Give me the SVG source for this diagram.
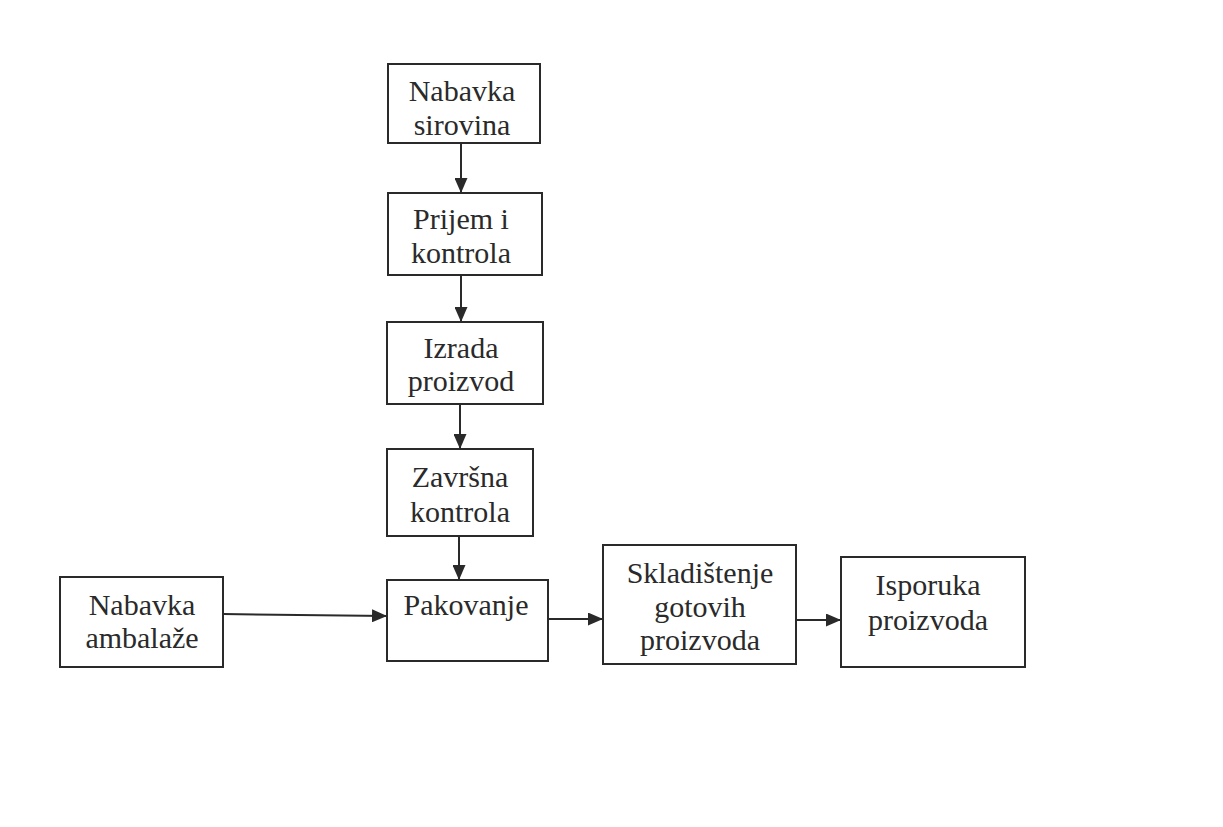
<svg xmlns="http://www.w3.org/2000/svg" width="1223" height="827" viewBox="0 0 1223 827">
  <style>
    .box { fill: #ffffff; stroke: #2a2a2a; stroke-width: 2; }
    .lbl { font-family: "Liberation Serif", "Times New Roman", serif; font-size: 30px; fill: #2a2a2a; text-anchor: middle; }
    .edge { stroke: #2a2a2a; stroke-width: 2; fill: none; marker-end: url(#arrow); }
  </style>
  <defs>
    <marker id="arrow" viewBox="0 0 15 13" refX="15" refY="6.5" markerWidth="15" markerHeight="13" markerUnits="userSpaceOnUse" orient="auto">
      <path d="M0,0 L15,6.5 L0,13 Z" fill="#2a2a2a"/>
    </marker>
  </defs>
  <rect width="1223" height="827" fill="#ffffff"/>

  <g id="connectors">
    <line class="edge" x1="461" y1="143" x2="461" y2="193"/>
    <line class="edge" x1="461" y1="275" x2="461" y2="322"/>
    <line class="edge" x1="460" y1="404" x2="460" y2="449"/>
    <line class="edge" x1="459" y1="536" x2="459" y2="580"/>
    <line class="edge" x1="223" y1="614" x2="387" y2="616"/>
    <line class="edge" x1="548" y1="619" x2="603" y2="619"/>
    <line class="edge" x1="796" y1="620" x2="841" y2="620"/>
  </g>

  <g id="nabavka-sirovina">
    <rect class="box" x="388" y="64" width="152" height="79"/>
    <text class="lbl" x="462" y="101">Nabavka</text>
    <text class="lbl" x="462" y="135">sirovina</text>
  </g>

  <g id="prijem-kontrola">
    <rect class="box" x="388" y="193" width="154" height="82"/>
    <text class="lbl" x="461" y="229">Prijem i</text>
    <text class="lbl" x="461" y="263">kontrola</text>
  </g>

  <g id="izrada-proizvod">
    <rect class="box" x="387" y="322" width="156" height="82"/>
    <text class="lbl" x="461" y="358">Izrada</text>
    <text class="lbl" x="461" y="391">proizvod</text>
  </g>

  <g id="zavrsna-kontrola">
    <rect class="box" x="387" y="449" width="146" height="87"/>
    <text class="lbl" x="460" y="487">Završna</text>
    <text class="lbl" x="460" y="522">kontrola</text>
  </g>

  <g id="nabavka-ambalaze">
    <rect class="box" x="60" y="577" width="163" height="90"/>
    <text class="lbl" x="142" y="615">Nabavka</text>
    <text class="lbl" x="142" y="648">ambalaže</text>
  </g>

  <g id="pakovanje">
    <rect class="box" x="387" y="580" width="161" height="81"/>
    <text class="lbl" x="466" y="615">Pakovanje</text>
  </g>

  <g id="skladistenje">
    <rect class="box" x="603" y="545" width="193" height="119"/>
    <text class="lbl" x="700" y="583">Skladištenje</text>
    <text class="lbl" x="700" y="617">gotovih</text>
    <text class="lbl" x="700" y="650">proizvoda</text>
  </g>

  <g id="isporuka">
    <rect class="box" x="841" y="557" width="184" height="110"/>
    <text class="lbl" x="928" y="595">Isporuka</text>
    <text class="lbl" x="928" y="630">proizvoda</text>
  </g>
</svg>
